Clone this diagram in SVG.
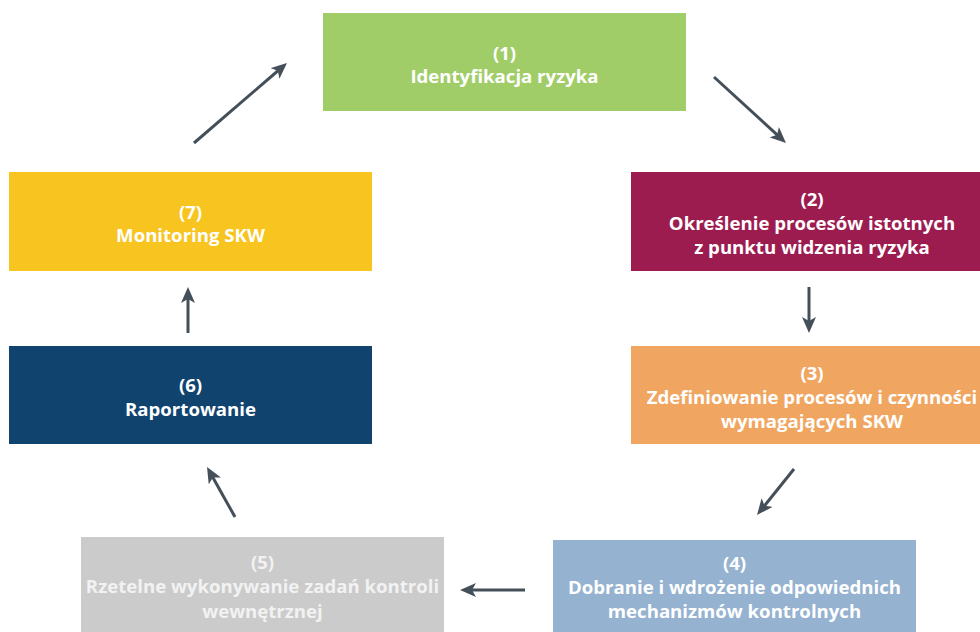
<svg xmlns="http://www.w3.org/2000/svg" width="980" height="632" viewBox="0 0 980 632">
<style>
.t{font-family:"Open Sans","Noto Sans","Liberation Sans",sans-serif;font-weight:bold;font-size:18.6px;fill:#ffffff;text-anchor:middle}
.t5{fill:#f2f2f2}
.c{fill:none;stroke:#444f59;stroke-width:3}
</style>
<defs>
<marker id="ah" viewBox="0 0 16 14" markerWidth="16" markerHeight="14" refX="6" refY="7" orient="auto" markerUnits="userSpaceOnUse">
<path d="M0,0 L16,7 L0,14 L4,7 z" fill="#444f59"/>
</marker>
</defs>
<rect width="980" height="632" fill="#ffffff"/>
<g id="n1">
<rect x="323" y="13" width="363" height="98" fill="#a1cd68"/>
<text class="t" x="504.5" y="60">(1)</text>
<text class="t" x="504.5" y="83">Identyfikacja ryzyka</text>
</g>
<g id="n2">
<rect x="631" y="172" width="349" height="99" fill="#9c1c50"/>
<text class="t" x="812" y="206">(2)</text>
<text class="t" x="812" y="230">Określenie procesów istotnych</text>
<text class="t" x="812" y="254">z punktu widzenia ryzyka</text>
</g>
<g id="n3">
<rect x="631" y="346" width="349" height="98" fill="#f0a660"/>
<text class="t" x="812" y="380">(3)</text>
<text class="t" x="812" y="404">Zdefiniowanie procesów i czynności</text>
<text class="t" x="812" y="428">wymagających SKW</text>
</g>
<g id="n4">
<rect x="553" y="540" width="363" height="92" fill="#95b2d0"/>
<text class="t" x="734.5" y="570">(4)</text>
<text class="t" x="734.5" y="594">Dobranie i wdrożenie odpowiednich</text>
<text class="t" x="734.5" y="618">mechanizmów kontrolnych</text>
</g>
<g id="n5">
<rect x="81" y="537" width="363" height="95" fill="#cbcbcb"/>
<text class="t t5" x="262.5" y="569">(5)</text>
<text class="t t5" x="262.5" y="593">Rzetelne wykonywanie zadań kontroli</text>
<text class="t t5" x="262.5" y="618">wewnętrznej</text>
</g>
<g id="n6">
<rect x="9" y="346" width="363" height="98" fill="#10446f"/>
<text class="t" x="190.5" y="392">(6)</text>
<text class="t" x="190.5" y="416">Raportowanie</text>
</g>
<g id="n7">
<rect x="9" y="172" width="363" height="99" fill="#f7c420"/>
<text class="t" x="190.5" y="219">(7)</text>
<text class="t" x="190.5" y="242">Monitoring SKW</text>
</g>
<g id="connectors">
<path class="c" d="M194,143 L279.4,69.5" marker-end="url(#ah)"/>
<path class="c" d="M714,77 L778.6,136.2" marker-end="url(#ah)"/>
<path class="c" d="M809,287 L809,323" marker-end="url(#ah)"/>
<path class="c" d="M794,469 L763.3,507.2" marker-end="url(#ah)"/>
<path class="c" d="M525,590 L470,590" marker-end="url(#ah)"/>
<path class="c" d="M235,517 L211.9,475.7" marker-end="url(#ah)"/>
<path class="c" d="M188,333 L188,297" marker-end="url(#ah)"/>
</g>
</svg>
